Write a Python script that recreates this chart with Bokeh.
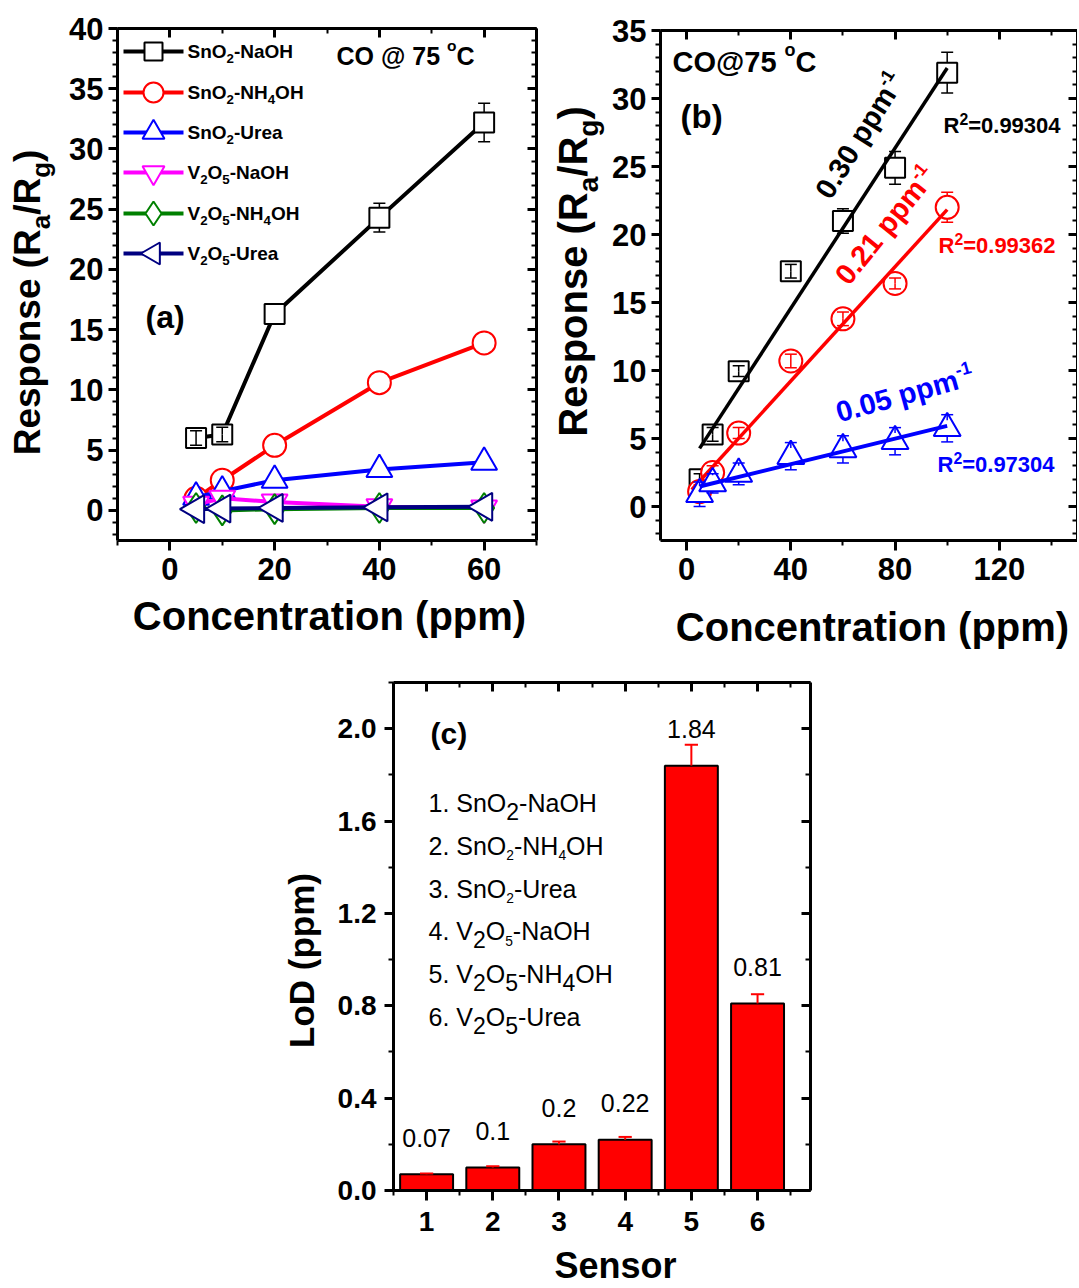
import numpy as np
from bokeh.plotting import figure
from bokeh.models import (Range1d, LinearAxis, SingleIntervalTicker, FixedTicker, Label,
                          CustomJSTickFormatter, NumeralTickFormatter, Spacer)
from bokeh.layouts import row, column
from bokeh.embed import file_html
from bokeh.resources import INLINE

FONT = "Liberation Sans"

# ---------------- data: panel (a) ----------------
conc_a = [5, 10, 20, 40, 60]
resp_sno2_naoh = [6.0, 6.3, 16.3, 24.3, 32.2]
err_sno2_naoh = [0.6, 0.6, 0.0, 1.2, 1.6]
resp_sno2_nh4oh = [1.0, 2.5, 5.4, 10.6, 13.9]
resp_sno2_urea = [1.1, 1.6, 2.5, 3.4, 4.0]
resp_v2o5_naoh = [0.5, 1.0, 0.7, 0.3, 0.2]
resp_v2o5_nh4oh = [0.2, 0.0, 0.1, 0.2, 0.2]
resp_v2o5_urea = [0.1, 0.15, 0.2, 0.25, 0.3]

# ---------------- data: panel (b) ----------------
conc_b = [5, 10, 20, 40, 60, 80, 100]
b_sno2_naoh = [2.0, 5.3, 9.95, 17.3, 21.0, 24.9, 31.9]
b_sno2_naoh_err = [0.4, 0.5, 0.4, 0.5, 0.9, 1.2, 1.5]
b_sno2_nh4oh = [1.1, 2.5, 5.4, 10.7, 13.8, 16.4, 22.0]
b_sno2_nh4oh_err = [0.5, 0.5, 0.4, 0.5, 0.5, 0.4, 1.1]
b_sno2_urea = [0.9, 1.7, 2.4, 3.7, 4.2, 4.8, 5.75]
b_sno2_urea_err = [0.9, 0.7, 0.8, 1.0, 1.0, 1.0, 1.0]
fit_start = [5, 2, 5]
fit_end = 100
slope_text = ["0.30 ppm", "0.21 ppm", "0.05 ppm"]
r2_text = ["=0.99304", "=0.99362", "=0.97304"]

# ---------------- data: panel (c) ----------------
sensors = [1, 2, 3, 4, 5, 6]
lod = [0.07, 0.10, 0.20, 0.22, 1.84, 0.81]
lod_err = [0.004, 0.005, 0.012, 0.012, 0.09, 0.04]
lod_text = ["0.07", "0.1", "0.2", "0.22", "1.84", "0.81"]

# ---------------- text helpers ----------------
WB = {' ': 278, '(': 333, ')': 333, '-': 333, '.': 278, '/': 278, '=': 584, '@': 975,
      'C': 722, 'D': 722, 'H': 722, 'L': 611, 'N': 722, 'O': 778, 'R': 722, 'S': 667,
      'U': 722, 'V': 667, 'a': 556, 'b': 611, 'c': 556, 'e': 556, 'g': 611, 'm': 889,
      'n': 611, 'o': 611, 'p': 611, 'r': 389, 's': 556, 't': 333, 'i': 278}
WR = {' ': 278, '(': 333, ')': 333, '-': 333, '.': 278, '/': 278, '=': 584, '@': 1015,
      'C': 722, 'D': 722, 'H': 722, 'L': 556, 'N': 722, 'O': 778, 'R': 722, 'S': 667,
      'U': 722, 'V': 667, 'a': 556, 'c': 500, 'e': 556, 'g': 556, 'm': 833, 'n': 556,
      'o': 556, 'p': 556, 'r': 333, 's': 500, 't': 278, 'i': 222}
KIND = {"n": (1.0, 0.0), "sub": (0.70, -0.26), "sup": (0.62, 0.45), "sup2": (0.72, 0.40),
        "deg": (0.62, 0.58), "bsub": (0.92, -0.30), "tsub": (0.55, -0.20)}
BASE_FIX = 0.38  # observed downward shift of the rendered baseline, in em


def text_w(s, size, bold):
    t = WB if bold else WR
    return sum(t.get(c, 556) for c in s) * size / 1000.0


def rich(p, x, y, segs, size, color="black", bold=True, angle=0.0, align="left"):
    th = np.radians(angle)
    widths = [text_w(s, size * KIND[k][0], bold) for s, k in segs]
    total = sum(widths)
    d = {"left": 0.0, "center": -total / 2.0, "right": -total}[align]
    for (s, k), w in zip(segs, widths):
        sc, sh = KIND[k]
        h = sh * size + BASE_FIX * size * sc
        p.add_layout(Label(x=x, y=y, text=s,
                           x_offset=float(d * np.cos(th) - h * np.sin(th)),
                           y_offset=float(d * np.sin(th) + h * np.cos(th)),
                           angle=float(th), text_font=FONT,
                           text_font_style="bold" if bold else "normal",
                           text_font_size=f"{size * sc:.1f}px", text_color=color,
                           text_align="left", text_baseline="alphabetic"))
        d += w


class Panel:
    """A figure whose frame covers the whole canvas; the plot box is drawn by fixed axes."""

    def __init__(self, page, box, xr, yr):
        P0, PT, P1, PB = page
        L, T, R, B = box
        kx = (xr[1] - xr[0]) / (R - L)
        ky = (yr[1] - yr[0]) / (B - T)
        self.page, self.box, self.xr, self.yr, self.kx, self.ky = page, box, xr, yr, kx, ky
        fx = (xr[0] - (L - P0) * kx, xr[1] + (P1 - R) * kx)
        fy = (yr[0] - (PB - B) * ky, yr[1] + (T - PT) * ky)
        p = figure(width=P1 - P0, height=PB - PT, x_range=Range1d(*fx), y_range=Range1d(*fy),
                   output_backend="svg", toolbar_location=None,
                   x_axis_location=None, y_axis_location=None,
                   min_border_left=0, min_border_right=0, min_border_top=0, min_border_bottom=0)
        p.xgrid.visible = False
        p.ygrid.visible = False
        p.outline_line_color = None
        p.background_fill_color = "white"
        p.border_fill_color = "white"
        self.p = p

    def cx(self, px):
        return self.xr[0] + (px - self.box[0]) * self.kx

    def cy(self, py):
        return self.yr[0] + (self.box[3] - py) * self.ky


def style_axis(ax, ticker, tin, tout, mtin, mtout, labels=True, fsize=31, standoff=8, fmt=None):
    ax.ticker = ticker
    ax.axis_line_width = 3
    ax.axis_line_color = "black"
    ax.major_tick_line_width = 3
    ax.minor_tick_line_width = 2
    ax.major_tick_in = tin
    ax.major_tick_out = tout
    ax.minor_tick_in = mtin
    ax.minor_tick_out = mtout
    if labels:
        ax.major_label_text_font = FONT
        ax.major_label_text_font_style = "bold"
        ax.major_label_text_font_size = f"{fsize}px"
        ax.major_label_text_color = "black"
        ax.major_label_standoff = standoff
        if fmt is not None:
            ax.formatter = fmt
    else:
        ax.formatter = CustomJSTickFormatter(code="return ''")
        ax.major_label_text_font_size = "1px"
        ax.major_label_standoff = 0


def add_box_axes(P, xtick, ytick, fsize, xstand, ystand, yfmt=None):
    xr, yr, p = P.xr, P.yr, P.p
    bot = LinearAxis(fixed_location=yr[0], bounds=xr)
    left = LinearAxis(fixed_location=xr[0], bounds=yr)
    top = LinearAxis(fixed_location=yr[1], bounds=xr)
    right = LinearAxis(fixed_location=xr[1], bounds=yr)
    p.add_layout(bot, "below")
    p.add_layout(left, "left")
    p.add_layout(top, "above")
    p.add_layout(right, "right")
    style_axis(bot, xtick(), 0, 10, 0, 5, fsize=fsize, standoff=xstand)
    style_axis(left, ytick(), 0, 9, 0, 5, fsize=fsize, standoff=ystand, fmt=yfmt)
    style_axis(top, xtick(), 9, 0, 5, 0, labels=False)
    style_axis(right, ytick(), 9, 0, 5, 0, labels=False)


def err_bars(p, x, y, e, half, cw, color, lw=1.5):
    x = np.asarray(x, float)
    y = np.asarray(y, float)
    e = np.asarray(e, float)
    keep = e > 0
    x, y, e = x[keep], y[keep], e[keep]
    start = np.where(e > half, half, 0.0)
    p.segment(x, y + start, x, y + e, line_color=color, line_width=lw)
    p.segment(x, y - start, x, y - e, line_color=color, line_width=lw)
    p.segment(x - cw, y + e, x + cw, y + e, line_color=color, line_width=lw)
    p.segment(x - cw, y - e, x + cw, y - e, line_color=color, line_width=lw)


# ================= panel (a) =================
A = Panel(page=(0, 0, 550, 660), box=(117, 28, 536, 540), xr=(-10, 70), yr=(-2.5, 40))
pa = A.p
add_box_axes(A, lambda: SingleIntervalTicker(interval=20, num_minor_ticks=2),
             lambda: SingleIntervalTicker(interval=5, num_minor_ticks=5), 31, 7, 5)

series_a = [
    (resp_sno2_naoh, "black", "square", 20, 0.0),
    (resp_sno2_nh4oh, "#FF0000", "circle", 23, 0.0),
    (resp_sno2_urea, "#0000FF", "triangle", 26, 0.0),
    (resp_v2o5_naoh, "#FF00FF", "inverted_triangle", 26, 0.0),
    (resp_v2o5_nh4oh, "#008000", "diamond", 30, 0.0),
    (resp_v2o5_urea, "#000080", "triangle", 28, np.pi / 2),
]
for i, (vals, col, mk, sz, ang) in enumerate(series_a):
    pa.line(conc_a, vals, line_color=col, line_width=4)
    pa.scatter(conc_a, vals, marker=mk, size=sz, angle=ang, fill_color="white",
               line_color=col, line_width=2)
    if i == 0:
        err_bars(pa, conc_a, resp_sno2_naoh, err_sno2_naoh, 0.83, 1.15, "black", 1.5)

leg_rows = [51, 92, 132, 172, 213, 253]
leg_segs = [
    [("SnO", "n"), ("2", "sub"), ("-NaOH", "n")],
    [("SnO", "n"), ("2", "sub"), ("-NH", "n"), ("4", "sub"), ("OH", "n")],
    [("SnO", "n"), ("2", "sub"), ("-Urea", "n")],
    [("V", "n"), ("2", "sub"), ("O", "n"), ("5", "sub"), ("-NaOH", "n")],
    [("V", "n"), ("2", "sub"), ("O", "n"), ("5", "sub"), ("-NH", "n"), ("4", "sub"), ("OH", "n")],
    [("V", "n"), ("2", "sub"), ("O", "n"), ("5", "sub"), ("-Urea", "n")],
]
leg_sizes = [18, 20, 22, 22, 24, 22]
for (vals, col, mk, sz, ang), ry, segs, lsz in zip(series_a, leg_rows, leg_segs, leg_sizes):
    pa.segment(A.cx(123), A.cy(ry), A.cx(183), A.cy(ry), line_color=col, line_width=4)
    pa.scatter([A.cx(153)], [A.cy(ry)], marker=mk, size=lsz, angle=ang, fill_color="white",
               line_color=col, line_width=2)
    rich(pa, A.cx(187), A.cy(ry + 7), segs, 19)

rich(pa, A.cx(41), A.cy(302), [("Response (R", "n"), ("a", "sub"), ("/R", "n"), ("g", "sub"), (")", "n")],
     37, angle=90, align="center")
rich(pa, A.cx(329), A.cy(631), [("Concentration (ppm)", "n")], 40, align="center")
rich(pa, A.cx(145), A.cy(329), [("(a)", "n")], 32)
rich(pa, A.cx(336), A.cy(65), [("CO @ 75 ", "n"), ("o", "deg"), ("C", "n")], 25)

# ================= panel (b) =================
B = Panel(page=(550, 0, 1077, 660), box=(660, 30, 1077, 540), xr=(-10, 150), yr=(-2.5, 35))
pb = B.p
add_box_axes(B, lambda: SingleIntervalTicker(interval=40, num_minor_ticks=2),
             lambda: SingleIntervalTicker(interval=5, num_minor_ticks=5), 31, 7, 5)

series_b = [
    (b_sno2_naoh, b_sno2_naoh_err, "black", "square", 20, 0.74, 3.5),
    (b_sno2_nh4oh, b_sno2_nh4oh_err, "#FF0000", "circle", 23, 0.85, 3.5),
    (b_sno2_urea, b_sno2_urea_err, "#0000FF", "triangle", 27, 0.6, 4.0),
]
for (vals, errs, col, mk, sz, half, flw), fs in zip(series_b, fit_start):
    pb.scatter(conc_b, vals, marker=mk, size=sz, fill_color="white", line_color=col, line_width=2)
    err_bars(pb, conc_b, vals, errs, half, 2.3, col, 1.5)
    k, b0 = np.polyfit(conc_b, vals, 1)
    fx = np.array([fs, fit_end], float)
    pb.line(fx, k * fx + b0, line_color=col, line_width=flw)

rich(pb, B.cx(588), B.cy(271), [("Response (R", "n"), ("a", "sub"), ("/R", "n"), ("g", "sub"), (")", "n")],
     40, angle=90, align="center")
rich(pb, B.cx(872), B.cy(642), [("Concentration (ppm)", "n")], 40, align="center")
rich(pb, B.cx(672), B.cy(73), [("CO@75 ", "n"), ("o", "deg"), ("C", "n")], 29)
rich(pb, B.cx(680), B.cy(129), [("(b)", "n")], 33)

slope_pos = [(831, 201, 58), (849, 287, 51), (839, 423, 15.6)]
r2_pos = [(943, 133), (938, 253), (937, 472)]
for (vals, errs, col, mk, sz, half, flw), st, (sx, sy, sa), r2, (rx, ry) in zip(
        series_b, slope_text, slope_pos, r2_text, r2_pos):
    rich(pb, B.cx(sx), B.cy(sy), [(st, "n"), ("-1", "sup")], 29, color=col, angle=sa)
    rich(pb, B.cx(rx), B.cy(ry), [("R", "n"), ("2", "sup2"), (r2, "n")], 22, color=col)

# ================= panel (c) =================
C = Panel(page=(270, 660, 820, 1286), box=(393, 682, 810, 1190), xr=(0.5, 6.8), yr=(0, 2.2))
pc = C.p
minor_c = [s - 0.5 for s in sensors] + [sensors[-1] + 0.5]
add_box_axes(C, lambda: FixedTicker(ticks=sensors, minor_ticks=minor_c),
             lambda: SingleIntervalTicker(interval=0.4, num_minor_ticks=2), 28, 11, 8,
             yfmt=NumeralTickFormatter(format="0.0"))

pc.vbar(x=sensors, top=lod, width=0.8, bottom=0, fill_color="#FF0000", line_color="black", line_width=2)
sx_ = np.asarray(sensors, float)
top_ = np.asarray(lod, float)
up_ = top_ + np.asarray(lod_err, float)
pc.segment(sx_, top_, sx_, up_, line_color="#FF0000", line_width=2)
pc.segment(sx_ - 0.1, up_, sx_ + 0.1, up_, line_color="#FF0000", line_width=2)
for s, v, t in zip(sensors, lod, lod_text):
    pc.add_layout(Label(x=s, y=v, text=t, y_offset=27 + BASE_FIX * 25, text_font=FONT,
                        text_font_size="25px", text_color="black", text_align="center",
                        text_baseline="alphabetic"))

leg_c = [
    [("1. SnO", "n"), ("2", "bsub"), ("-NaOH", "n")],
    [("2. SnO", "n"), ("2", "tsub"), ("-NH", "n"), ("4", "tsub"), ("OH", "n")],
    [("3. SnO", "n"), ("2", "tsub"), ("-Urea", "n")],
    [("4. V", "n"), ("2", "bsub"), ("O", "n"), ("5", "tsub"), ("-NaOH", "n")],
    [("5. V", "n"), ("2", "bsub"), ("O", "n"), ("5", "bsub"), ("-NH", "n"), ("4", "bsub"), ("OH", "n")],
    [("6. V", "n"), ("2", "bsub"), ("O", "n"), ("5", "bsub"), ("-Urea", "n")],
]
for k, segs in enumerate(leg_c):
    rich(pc, C.cx(428), C.cy(812 + 42.8 * k), segs, 25, bold=False)

rich(pc, C.cx(314), C.cy(960), [("LoD (ppm)", "n")], 35, angle=90, align="center")
rich(pc, C.cx(615), C.cy(1279), [("Sensor", "n")], 36, align="center")
rich(pc, C.cx(430), C.cy(744), [("(c)", "n")], 30)

layout = column(row(pa, pb), row(Spacer(width=270, height=626), pc))
open("out.html", "w").write(file_html(layout, INLINE))
